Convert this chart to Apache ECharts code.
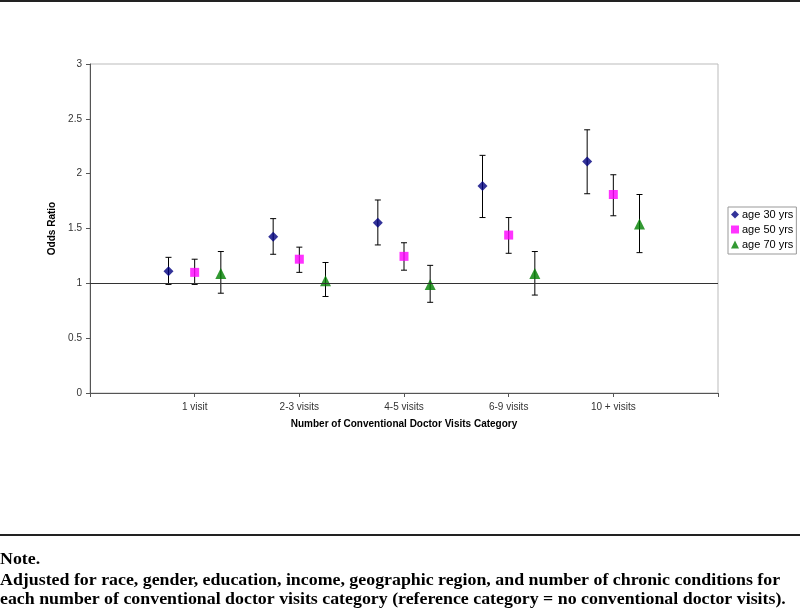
<!DOCTYPE html>
<html>
<head>
<meta charset="utf-8">
<script src="https://cdn.jsdelivr.net/npm/echarts@6/dist/echarts.min.js"></script>
<style>html,body{margin:0;padding:0;background:#fff;}#c{width:800px;height:610px;}</style>
</head>
<body>
<div id="c"></div>
<script>
const categories = ['1 visit', '2-3 visits', '4-5 visits', '6-9 visits', '10 + visits'];
const seriesNames = ['age 30 yrs', 'age 50 yrs', 'age 70 yrs'];
const age30 = [1.11, 1.425, 1.553, 1.887, 2.11];
const age30Low = [0.99, 1.265, 1.35, 1.60, 1.817];
const age30High = [1.237, 1.59, 1.76, 2.167, 2.40];
const age50 = [1.10, 1.22, 1.246, 1.44, 1.81];
const age50Low = [0.99, 1.10, 1.12, 1.274, 1.616];
const age50High = [1.22, 1.33, 1.37, 1.60, 1.99];
const age70 = [1.09, 1.024, 0.99, 1.09, 1.54];
const age70Low = [0.91, 0.88, 0.827, 0.893, 1.28];
const age70High = [1.29, 1.19, 1.164, 1.29, 1.81];
const yTicks = [0, 0.5, 1, 1.5, 2, 2.5, 3];

const offsets = [-0.25, 0, 0.25];
const values = [age30, age50, age70];
const lows = [age30Low, age50Low, age70Low];
const highs = [age30High, age50High, age70High];
const colors = ['#000080', '#FF00FF', '#008000'];
const symbols = ['diamond', 'rect', 'triangle'];
const sizes = [10, 9, 11];

const chart = echarts.init(document.getElementById('c'));
const series = [];
seriesNames.forEach((name, s) => {
  series.push({
    type: 'custom',
    name: name + ' err',
    silent: true,
    z: 2,
    renderItem: function (params, api) {
      const x = api.value(0);
      const lo = api.coord([x, api.value(1)]);
      const hi = api.coord([x, api.value(2)]);
      const c = 3;
      const st = { stroke: '#000', lineWidth: 1 };
      return {
        type: 'group',
        children: [
          { type: 'line', shape: { x1: lo[0], y1: lo[1], x2: hi[0], y2: hi[1] }, style: st },
          { type: 'line', shape: { x1: lo[0] - c, y1: lo[1], x2: lo[0] + c, y2: lo[1] }, style: st },
          { type: 'line', shape: { x1: hi[0] - c, y1: hi[1], x2: hi[0] + c, y2: hi[1] }, style: st }
        ]
      };
    },
    data: categories.map((_, i) => [i + 1 + offsets[s], lows[s][i], highs[s][i]])
  });
});
seriesNames.forEach((name, s) => {
  const ser = {
    type: 'scatter',
    name: name,
    symbol: symbols[s],
    symbolSize: sizes[s],
    z: 3,
    itemStyle: { color: colors[s] },
    data: categories.map((_, i) => [i + 1 + offsets[s], values[s][i]])
  };
  if (s === 0) {
    ser.markLine = {
      silent: true,
      symbol: 'none',
      label: { show: false },
      lineStyle: { color: '#333', width: 1, type: 'solid' },
      data: [{ yAxis: 1 }]
    };
  }
  series.push(ser);
});

const noteFont = 'bold 17px "Liberation Serif"';
chart.setOption({
  animation: false,
  backgroundColor: '#fff',
  grid: { left: 90, right: 82, top: 64, bottom: 217, show: true, borderColor: '#bbb', borderWidth: 1 },
  xAxis: {
    type: 'value', min: 0, max: 6, interval: 1,
    name: 'Number of Conventional Doctor Visits Category',
    nameLocation: 'middle', nameGap: 26,
    nameTextStyle: { fontFamily: 'Liberation Sans', fontWeight: 'bold', fontSize: 10, color: '#000' },
    axisLine: { lineStyle: { color: '#555', width: 1 } },
    axisTick: { show: true, length: 4, lineStyle: { color: '#555' } },
    splitLine: { show: false },
    axisLabel: {
      fontFamily: 'Liberation Sans', fontSize: 10, color: '#333', margin: 9,
      formatter: v => (v >= 1 && v <= categories.length) ? categories[v - 1] : ''
    }
  },
  yAxis: {
    type: 'value', min: yTicks[0], max: yTicks[yTicks.length - 1], interval: 0.5,
    name: 'Odds Ratio', nameLocation: 'middle', nameGap: 27,
    nameTextStyle: { fontFamily: 'Liberation Sans', fontWeight: 'bold', fontSize: 10, color: '#000' },
    axisLine: { show: true, lineStyle: { color: '#555', width: 1 } },
    axisTick: { show: true, length: 4, lineStyle: { color: '#555' } },
    splitLine: { show: false },
    axisLabel: { fontFamily: 'Liberation Sans', fontSize: 10, color: '#333', margin: 8 }
  },
  legend: {
    orient: 'vertical', left: 728, top: 207,
    data: seriesNames.map((n, s) => ({ name: n, icon: symbols[s] })),
    itemWidth: 8, itemHeight: 8, itemGap: 4,
    padding: [2, 3, 4, 3],
    borderColor: '#999', borderWidth: 1,
    textStyle: { fontFamily: 'Liberation Sans', fontSize: 11, lineHeight: 11, color: '#000', padding: [0, 0, 0, -2] }
  },
  graphic: [
    { type: 'rect', shape: { x: 0, y: 0, width: 800, height: 2 }, style: { fill: '#222' } },
    { type: 'rect', shape: { x: 0, y: 534, width: 800, height: 2 }, style: { fill: '#222' } },
    { type: 'text', x: 0, y: 551, scaleX: 1.05, style: { text: 'Note.', x: 0, y: 0, font: noteFont, fill: '#000' } },
    { type: 'text', x: 0, y: 572, scaleX: 1.05, style: { text: 'Adjusted for race, gender, education, income, geographic region, and number of chronic conditions for', x: 0, y: 0, font: noteFont, fill: '#000' } },
    { type: 'text', x: 0, y: 591, scaleX: 1.05, style: { text: 'each number of conventional doctor visits category (reference category = no conventional doctor visits).', x: 0, y: 0, font: noteFont, fill: '#000' } }
  ],
  series: series
});
</script>
</body>
</html>
